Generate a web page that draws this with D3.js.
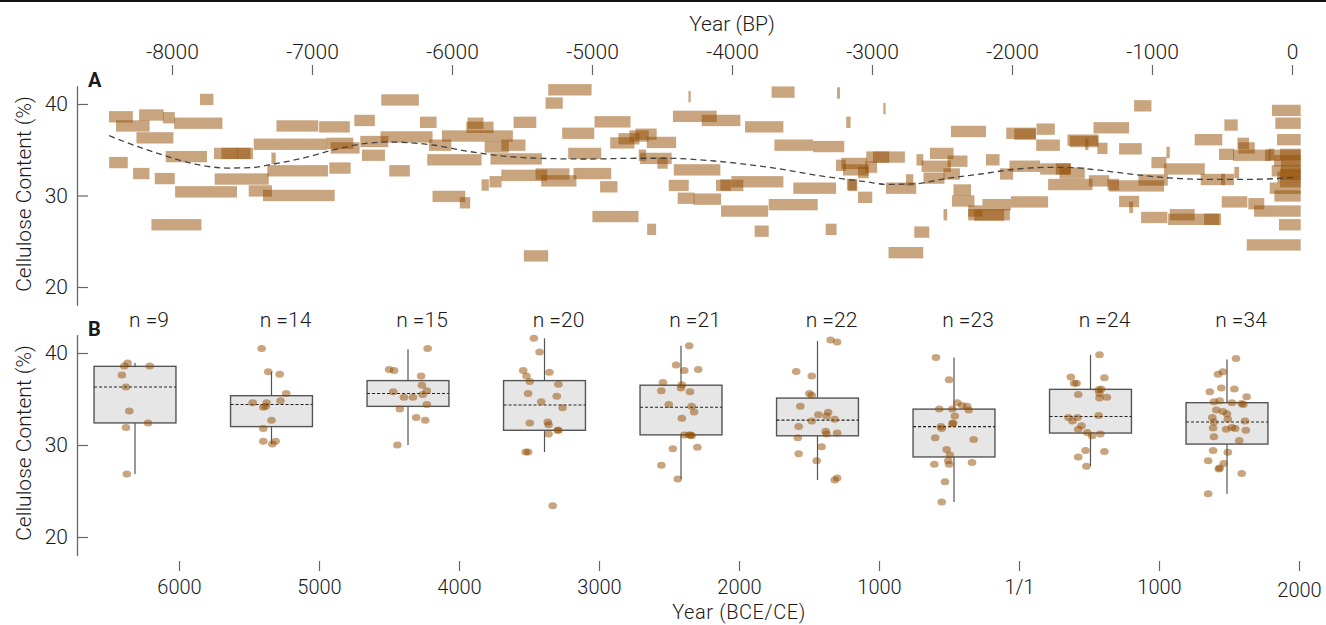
<!DOCTYPE html>
<html>
<head>
<meta charset="utf-8">
<script src="https://cdn.jsdelivr.net/npm/d3@7"></script>
<style>
  body { margin: 0; background: #fff; }
  svg text { font-family: Roboto, "Liberation Sans", Arial, sans-serif; font-weight: 300; fill: #1a1a1a; }
</style>
</head>
<body>
<div id="chart"></div>
<script>
/* global d3 */

// ---------- Panel A: dated samples [start BP, end BP, cellulose %] ----------
const datedSamples = [
  [-7800,-7704,40.5],[-8450,-8280,38.6],[-8235,-8060,38.8],[-8065,-7980,38.5],[-7985,-7640,37.9],
  [-8400,-8160,37.6],[-8254,-7990,36.3],[-7254,-6955,37.6],[-7416,-6895,35.6],[-6949,-6730,37.5],
  [-8045,-7750,34.25],[-7700,-7528,34.6],[-7647,-7421,34.6],[-7533,-7440,34.6],[-7290,-7259,34.07],
  [-8449,-8316,33.6],[-7319,-6886,32.7],[-8278,-8161,32.4],[-8123,-7980,31.85],[-7695,-7309,31.8],
  [-7978,-7536,30.4],[-7452,-7286,30.5],[-7350,-6838,30.0],[-8147,-7790,26.8],
  [-6505,-6237,40.44],[-6698,-6551,38.2],[-6229,-6110,38.0],[-5889,-5775,37.9],[-5898,-5703,37.45],
  [-6072,-5565,36.5],[-6510,-6139,36.4],[-6897,-6705,35.7],[-6867,-6660,35.2],[-6655,-6455,35.9],
  [-6643,-6479,34.4],[-6165,-6005,35.5],[-6876,-6724,33.0],[-6448,-6301,32.7],[-6177,-5789,33.9],
  [-5767,-5594,35.3],[-5648,-5475,35.5],[-5560,-5398,38.0],[-5725,-5358,34.0],[-5648,-5320,32.2],
  [-5403,-5161,32.35],[-5363,-5111,31.6],[-5789,-5737,31.15],[-5732,-5646,31.5],[-6139,-5905,29.9],
  [-5944,-5870,29.2],[-5487,-5313,23.4],[-5332,-5209,40.1],[-5313,-5003,41.55],[-5213,-4984,36.8],
  [-5170,-4934,34.6],[-5132,-4863,32.4],[-4942,-4818,30.95],[-4982,-4725,38.05],[-4997,-4668,27.7],
  [-4870,-4697,35.75],[-4811,-4661,36.2],[-4733,-4595,36.5],[-4690,-4538,36.7],[-4609,-4399,35.8],
  [-4666,-4613,34.4],[-4656,-4431,34.05],[-4533,-4459,33.55],[-4416,-4083,32.8],[-4452,-4309,31.1],
  [-4388,-4268,29.7],[-4274,-4078,29.6],[-4606,-4542,26.3],[-4311,-4295,40.8],[-4422,-4109,38.65],
  [-4216,-3940,38.2],[-3717,-3553,41.3],[-3250,-3229,41.2],[-2919,-2903,39.5],[-3184,-3153,38.0],
  [-3907,-3633,37.5],[-3697,-3421,35.5],[-3421,-3198,35.35],[-4114,-3919,31.1],[-4083,-4007,31.15],
  [-4005,-3633,31.5],[-3562,-3257,30.8],[-4078,-3742,28.3],[-3738,-3388,29.0],[-3838,-3738,26.1],
  [-3331,-3253,26.3],[-3257,-3186,33.3],[-3219,-3036,33.5],[-3207,-3024,32.8],[-3100,-3024,32.5],
  [-3041,-2877,34.2],[-2993,-2765,34.2],[-3048,-2964,33.1],[-3179,-3110,31.2],[-3170,-3105,31.1],
  [-3100,-2998,29.8],[-2900,-2684,30.8],[-2757,-2705,31.7],[-2682,-2634,33.9],[-2882,-2634,23.75],
  [-2698,-2591,26.0],[-2436,-2186,37.0],[-2041,-1829,36.8],[-1984,-1829,36.7],[-1825,-1694,37.25],
  [-1827,-1658,35.5],[-1604,-1383,36.05],[-1587,-1383,35.9],[-1478,-1454,35.6],[-1418,-1164,37.4],
  [-1390,-1318,35.15],[-1235,-1073,35.1],[-2586,-2418,34.6],[-2646,-2436,33.2],[-2460,-2318,33.75],
  [-2489,-2372,32.35],[-2632,-2482,31.9],[-2186,-2089,33.9],[-2086,-1992,32.35],[-2018,-1799,33.2],
  [-1799,-1580,32.9],[-1687,-1580,32.9],[-1661,-1480,32.45],[-1742,-1425,31.2],[-1451,-1306,31.6],
  [-1306,-914,31.05],[-1097,-887,31.7],[-1318,-1235,31.2],[-1235,-1092,29.35],[-1163,-1135,28.7],
  [-2418,-2293,30.6],[-2429,-2268,29.4],[-2313,-2015,27.9],[-2211,-2008,29.0],[-2270,-2056,27.85],
  [-2008,-1742,29.3],[-2313,-2211,28.3],[-2489,-2463,27.9],[-1128,-1004,39.8],[-695,-498,36.1],
  [-483,-388,37.7],[-390,-307,35.7],[-383,-266,35.2],[-521,-414,34.5],[-421,-152,34.4],
  [-193,62,34.4],[-1004,-897,33.6],[-897,-873,34.7],[-914,-623,32.9],[-652,-414,31.75],
  [-507,-478,31.75],[-412,-378,32.5],[-1078,-890,27.6],[-873,-695,27.9],[-885,-521,27.4],
  [-628,-507,27.4],[-502,-319,29.3],[-312,-198,29.1],[-271,62,28.3],[-93,62,26.8],
  [-323,62,24.6],[-143,62,39.3],[-119,62,37.9],[-107,62,36.1],[-86,62,34.5],
  [-128,62,33.8],[-145,62,32.7],[-105,62,32.0],[-159,62,30.8],[-126,62,29.95],
  [-86,62,31.5],[-86,62,32.3],[-79,62,33.2],[-166,-126,34.5]
];

// smoothed trend (dashed line), BP year and cellulose %
const trendBP = [-8449,-8242,-8044,-7837,-7600,-7433,-7314,-7052,-6850,-6612,-6458,-6303,-6136,-5898,
  -5660,-5387,-5030,-4673,-4482,-4125,-3685,-3328,-3043,-2900,-2710,-2460,-2222,-1984,-1747,-1627,
  -1390,-1199,-901,-640,-283,26];
const trendValue = [36.54,35.33,34.32,33.44,33.0,33.04,33.33,34.13,34.97,35.70,35.85,35.77,35.52,34.86,
  34.35,34.07,33.99,34.07,34.07,33.77,32.97,32.05,31.51,31.22,31.26,31.88,32.35,32.86,33.08,33.08,
  32.79,32.43,31.95,31.77,31.77,31.99];

const bpTicks = [-8000,-7000,-6000,-5000,-4000,-3000,-2000,-1000,0];
const ceTicks = [-6000,-5000,-4000,-3000,-2000,-1000,0,1000,2000];
const yTicks = [20, 30, 40];

// ---------- Panel B: binned samples ----------
const bins = ['bin1','bin2','bin3','bin4','bin5','bin6','bin7','bin8','bin9'];
// [lower whisker, q1, median, q3, upper whisker]
const boxStats = [
  [26.85,32.4,36.3,38.55,38.9],
  [30.1,32.0,34.4,35.36,37.97],
  [30.0,34.2,35.6,37.0,40.4],
  [29.24,31.6,34.35,37.0,41.6],
  [26.3,31.1,34.1,36.5,40.8],
  [26.2,31.0,32.7,35.1,41.3],
  [23.8,28.7,32.0,33.9,39.5],
  [27.7,31.3,33.1,36.05,39.8],
  [24.7,30.1,32.5,34.6,39.3]
];
const binValues = [
  [38.9,38.6,38.6,37.6,36.3,33.7,32.4,31.9,26.85],
  [40.5,37.97,37.7,35.6,34.6,34.6,34.8,34.2,34.1,32.7,31.8,30.4,30.4,30.1],
  [40.5,38.2,38.1,37.5,36.5,35.8,35.9,35.5,35.2,35.2,34.4,33.9,33.0,32.7,30.0],
  [41.6,40.1,38.1,37.5,37.9,36.9,36.6,35.6,35.3,34.7,34.05,32.4,32.5,32.2,31.6,31.6,31.2,29.24,29.24,23.4],
  [40.8,38.7,38.1,38.2,36.8,36.55,36.2,35.9,35.8,34.4,34.2,33.6,32.9,31.1,31.1,31.0,31.1,29.6,29.75,27.8,26.3],
  [41.4,41.2,38.0,37.5,35.6,35.4,34.2,33.55,33.3,33.15,32.8,32.6,32.0,31.5,31.2,31.3,30.8,29.8,29.05,28.3,26.4,26.2],
  [39.5,37.1,34.6,34.3,34.2,33.9,33.9,33.8,33.15,32.4,32.3,32.0,31.8,30.8,30.6,29.5,28.9,28.3,27.9,27.9,28.1,26.0,23.8],
  [39.8,37.4,37.3,36.7,36.7,36.0,36.1,35.5,35.6,35.2,35.1,33.0,33.0,33.2,32.6,32.1,31.7,31.35,31.0,31.2,29.4,29.3,28.7,27.7],
  [39.4,37.97,37.7,35.8,36.2,36.1,35.25,34.7,34.8,34.6,34.5,34.4,33.8,33.65,33.0,32.8,32.5,32.6,31.85,31.7,
   31.9,31.8,31.6,30.9,30.5,29.4,29.2,28.3,28.0,27.5,27.4,26.9,24.7,33.4]
];
// horizontal jitter, in percent of box width
const binJitter = [
  [-9,-13,18,-16,-11,-7,16,-11,-10],
  [-12,-4,10,18,-23,-6,11,-7,-10,0,-10,-10,5,1],
  [24,-23,-17,16,17,-18,23,18,-5,6,23,-10,10,21,-13],
  [-13,-6,-26,-22,6,-18,17,-20,15,-4,22,-18,4,5,17,16,5,-23,-20,10],
  [10,-6,4,21,-22,1,0,-24,11,-15,13,16,1,4,10,13,12,-10,20,-24,-4],
  [16,24,-26,-7,-10,-7,-21,13,1,11,21,-7,-23,10,11,24,-24,5,-23,-1,24,21],
  [-22,-6,4,10,16,-2,-18,18,1,-1,-2,-16,-15,-23,24,-9,-5,-7,-6,-24,22,-11,-15],
  [11,-24,17,-20,-17,10,13,-15,11,20,11,-27,-16,10,-22,-11,-15,-4,2,12,-6,17,-15,-5],
  [11,-5,-11,-21,-7,9,24,-16,-9,6,18,20,-13,-5,-18,1,-16,22,-17,-1,6,10,23,-16,15,-17,1,-23,-4,-9,-10,18,-23,0]
];

// ---------- setup ----------
const W = 1326, H = 625;
const brown = 'rgb(145,75,0)';
const axisColor = '#666';

const svg = d3.select('#chart').append('svg')
  .attr('width', W)
  .attr('height', H);

// frame line at top of figure
svg.append('rect').attr('x', 0).attr('y', 0).attr('width', W).attr('height', 2).attr('fill', '#111');

// Scales
const x = d3.scaleLinear().domain([-6000, 2000]).range([179, 1299]);      // calendar year CE
const xBP = d3.scaleLinear().domain([-8000, 0]).range([x(1950 - 8000), x(1950)]);
const yA = d3.scaleLinear().domain([18, 42]).range([305.3, 85.7]);
const yB = d3.scaleLinear().domain([18, 42]).range([555.4, 334.6]);
const band = d3.scaleBand().domain(bins).range([66.75, 1295.25]).paddingInner(0.4).paddingOuter(0.2);

function styleAxis(g) {
  g.attr('font-size', 21).attr('font-family', null);
  g.select('.domain').attr('stroke', axisColor).attr('stroke-width', 1.3);
  g.selectAll('.tick line').attr('stroke', axisColor).attr('stroke-width', 1.2);
  g.selectAll('.tick text').attr('fill', '#1a1a1a');
}

// ---------- Panel A ----------
svg.append('g')
  .attr('transform', 'translate(0,75)')
  .call(d3.axisTop(xBP).tickValues(bpTicks).tickSize(10).tickPadding(6).tickFormat(d => String(d)))
  .call(styleAxis)
  .call(g => g.select('.domain').remove());

svg.append('text')
  .attr('x', xBP(-4000))
  .attr('y', 31)
  .attr('text-anchor', 'middle')
  .attr('font-size', 21)
  .text('Year (BP)');

svg.append('g')
  .attr('transform', 'translate(77,0)')
  .call(d3.axisLeft(yA).tickValues(yTicks).tickSizeInner(-11).tickSizeOuter(0).tickPadding(9))
  .call(styleAxis);

svg.append('g').selectAll('rect')
  .data(datedSamples)
  .enter().append('rect')
  .attr('x', d => x(1950 + d[0]))
  .attr('width', d => x(1950 + d[1]) - x(1950 + d[0]))
  .attr('y', d => yA(d[2] + 0.62))
  .attr('height', d => yA(d[2] - 0.62) - yA(d[2] + 0.62))
  .attr('fill', brown)
  .attr('fill-opacity', 0.5);

const trendLine = d3.line()
  .x((d, i) => x(1950 + trendBP[i]))
  .y(d => yA(d))
  .curve(d3.curveMonotoneX);

svg.append('path')
  .datum(trendValue)
  .attr('d', trendLine)
  .attr('fill', 'none')
  .attr('stroke', '#444')
  .attr('stroke-width', 1.3)
  .attr('stroke-dasharray', '6,4');

svg.append('text').attr('x', 88).attr('y', 87)
  .attr('font-size', 20).style('font-weight', 'bold').attr('fill', '#000').text('A');

// ---------- Panel B ----------
svg.append('g')
  .attr('transform', 'translate(77,0)')
  .call(d3.axisLeft(yB).tickValues(yTicks).tickSizeInner(-11).tickSizeOuter(0).tickPadding(9))
  .call(styleAxis);

svg.append('g')
  .attr('transform', 'translate(0,561)')
  .call(d3.axisBottom(x).tickValues(ceTicks).tickSize(10).tickPadding(9)
    .tickFormat(d => d === 0 ? '1/1' : String(Math.abs(d))))
  .call(styleAxis)
  .attr('font-size', 20)
  .call(g => g.select('.domain').remove())
  .call(g => g.selectAll('.tick text').filter(d => d === 2000).attr('dy', '0.86em'));

svg.append('text')
  .attr('x', x(-2000))
  .attr('y', 619)
  .attr('text-anchor', 'middle')
  .attr('font-size', 20)
  .attr('letter-spacing', 0.6)
  .text('Year (BCE/CE)');

const boxes = svg.append('g').selectAll('g')
  .data(bins)
  .enter().append('g');

const cx = (i) => band(bins[i]) + band.bandwidth() / 2;

boxes.append('line')
  .attr('x1', (d, i) => cx(i)).attr('x2', (d, i) => cx(i))
  .attr('y1', (d, i) => yB(boxStats[i][0]))
  .attr('y2', (d, i) => yB(boxStats[i][4]))
  .attr('stroke', '#555').attr('stroke-width', 1.2);

boxes.append('rect')
  .attr('x', d => band(d))
  .attr('width', band.bandwidth())
  .attr('y', (d, i) => yB(boxStats[i][3]))
  .attr('height', (d, i) => yB(boxStats[i][1]) - yB(boxStats[i][3]))
  .attr('fill', '#e6e6e6')
  .attr('stroke', '#555')
  .attr('stroke-width', 1.4);

boxes.append('line')
  .attr('x1', d => band(d)).attr('x2', d => band(d) + band.bandwidth())
  .attr('y1', (d, i) => yB(boxStats[i][2]))
  .attr('y2', (d, i) => yB(boxStats[i][2]))
  .attr('stroke', '#222').attr('stroke-width', 1.1).attr('stroke-dasharray', '3,2');

boxes.each(function(d, i) {
  d3.select(this).selectAll('ellipse')
    .data(binValues[i])
    .enter().append('ellipse')
    .attr('cx', (v, j) => cx(i) + binJitter[i][j] / 100 * band.bandwidth())
    .attr('cy', v => yB(v))
    .attr('rx', 4.3)
    .attr('ry', 3.5)
    .attr('fill', brown)
    .attr('fill-opacity', 0.5);
});

boxes.append('text')
  .attr('x', (d, i) => cx(i) + 14)
  .attr('y', 327)
  .attr('text-anchor', 'middle')
  .attr('font-size', 21)
  .text((d, i) => 'n =' + binValues[i].length);

svg.append('text').attr('x', 88).attr('y', 336)
  .attr('font-size', 20).style('font-weight', 'bold').attr('fill', '#000').text('B');

// ---------- y axis titles ----------
[194, 443].forEach(cy => {
  svg.append('text')
    .attr('transform', `translate(31,${cy}) rotate(-90)`)
    .attr('text-anchor', 'middle')
    .attr('font-size', 21)
    .text('Cellulose Content (%)');
});
</script>
</body>
</html>
